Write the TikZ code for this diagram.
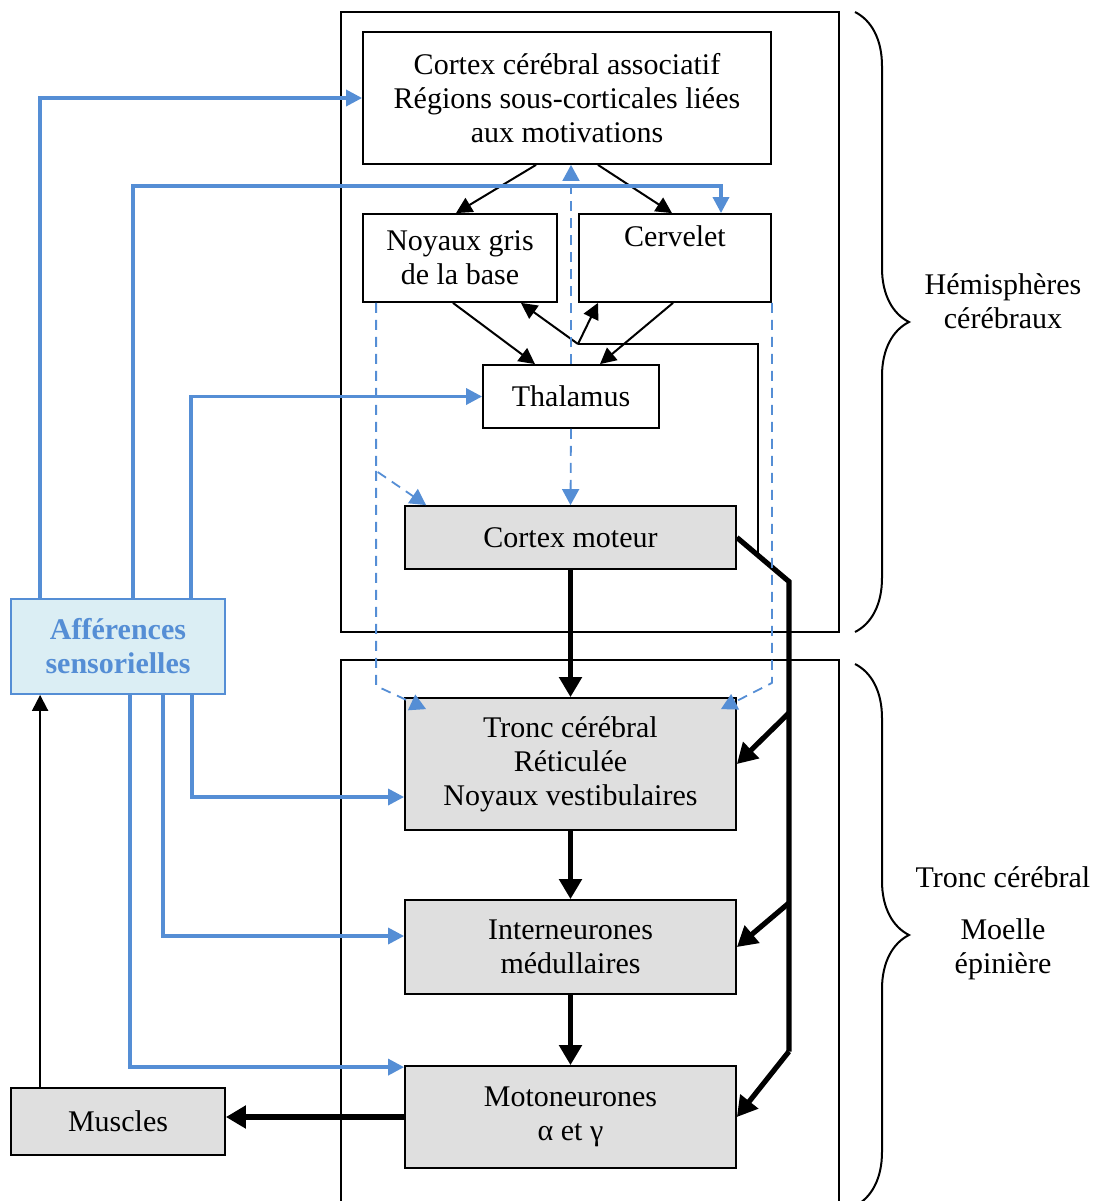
\documentclass[tikz,border=0pt]{standalone}
\usepackage{fontspec}
\setmainfont{Liberation Serif}
\usetikzlibrary{arrows.meta,positioning,calc,decorations.pathreplacing}
\definecolor{SkyB}{HTML}{558ED5}
\definecolor{SkyF}{HTML}{DBEEF4}
\definecolor{GrayF}{HTML}{DFDFDF}

\begin{document}
\begin{tikzpicture}[x=0.5pt,y=-0.5pt,
    font=\fontsize{15}{17}\selectfont,
    box/.style={draw,line width=0.9pt,fill=white,inner sep=0pt,align=center},
    gbox/.style={box,fill=GrayF},
    abox/.style={draw=SkyB,line width=0.9pt,fill=SkyF,inner sep=0pt,align=center,
      text=SkyB,font=\fontsize{15}{17}\selectfont\bfseries},
    arr/.style={-{Triangle[length=8pt,width=8pt]},line width=1pt},
    thk/.style={-{Triangle[length=10pt,width=11pt]},line width=2.6pt},
    barr/.style={-{Triangle[length=8pt,width=8pt]},SkyB,line width=1.7pt},
    darr/.style={-{Triangle[length=8pt,width=8.5pt]},SkyB,line width=0.9pt,
      dash pattern=on 5pt off 3.5pt},
    brc/.style={decorate,decoration={brace,amplitude=27pt},line width=1pt}]
  \useasboundingbox (0,0) rectangle (1100,1201);
  \draw[line width=0.9pt] (341,12) rectangle (839,632);
  \draw[line width=0.9pt] (341,1210) -- (341,660) -- (839,660) -- (839,1210);
  \draw[brc] (855,12) -- (855,632);
  \draw[brc] (855,664) -- (855,1206);

  \node[box,minimum width=204pt,minimum height=66pt] (CA) at (567,98)
    {Cortex cérébral associatif\\Régions sous-corticales liées\\aux motivations};
  \node[box,minimum width=97pt,minimum height=44pt] (NG) at (460,258) {Noyaux gris\\de la base};
  \node[box,minimum width=96pt,minimum height=44pt] (CV) at (675,258) {Cervelet\\\strut};
  \node[box,minimum width=88pt,minimum height=31.5pt] (TH) at (571,396.5) {Thalamus};
  \node[gbox,minimum width=165.5pt,minimum height=31.5pt] (CM) at (570.5,537.5) {Cortex moteur};
  \node[gbox,minimum width=165.5pt,minimum height=66pt,below=63.6pt of CM] (TC)
    {Tronc cérébral\\Réticulée\\Noyaux vestibulaires};
  \node[gbox,minimum width=165.5pt,minimum height=47pt,below=34.1pt of TC] (IN) {Interneurones\\médullaires};
  \node[gbox,minimum width=165.5pt,minimum height=51pt,below=35.1pt of IN] (MN) {Motoneurones\\α et γ};
  \node[abox,minimum width=107pt,minimum height=47.5pt] (AF) at (118,646.5) {Afférences\\sensorielles};
  \node[gbox,minimum width=107pt,minimum height=33.5pt] (MU) at (118,1121.5) {Muscles};

  \node[align=center] (HC) at (1003,301) {Hémisphères\\cérébraux};
  \node (TCl) at (1003,877) {Tronc cérébral};
  \node[align=center] (ME) at (1003,949) {Moelle\\épinière};

  \draw[arr] ($(CA.south)+(-31,0)$) -- ($(NG.north)+(-4,0)$);
  \draw[arr] ($(CA.south)+(31,0)$) -- ($(CV.north)+(-3,0)$);
  \draw[arr] ($(NG.south)+(-7,0)$) -- ($(TH.north)+(-36,0)$);
  \draw[arr] ($(CV.south)+(-2,0)$) -- ($(TH.north)+(29,0)$);

  \coordinate (K) at ($(CM.east)+(52,44)$);
  \coordinate (Kb) at ($(K)+(0,470)$);
  \coordinate (J) at (578,344);
  \draw[line width=1pt] ($(CM.east)!0.4!(K)$) |- (J);
  \draw[arr] (J) -- ($(NG.south)+(61,0)$);
  \draw[arr] (J) -- ($(CV.south)+(-77,0)$);

  \draw[line width=2.6pt] (CM.east) -- (K) -- (Kb);
  \draw[thk] ($(TC.east)+(52,-51)$) -- (TC.east);
  \draw[thk] ($(IN.east)+(52,-44)$) -- (IN.east);
  \draw[thk] (Kb) -- (MN.east);
  \draw[thk] (CM) -- (TC);
  \draw[thk] (TC) -- (IN);
  \draw[thk] (IN) -- (MN);
  \draw[thk] (MN.west) -- (MN.west -| MU.east);
  \draw[arr] ($(MU.north west)+(30,0)$) -- ($(AF.south west)+(30,0)$);

  \draw[barr] ($(AF.north west)+(30,0)$) |- (CA.west);
  \draw[barr] ($(AF.north west)+(123,0)$) |- ($(CV.north)+(46,-27)$) -- ($(CV.north)+(46,0)$);
  \draw[barr] ($(AF.north west)+(181,0)$) |- (TH.west);
  \draw[barr] ($(AF.south west)+(182,0)$) |- ($(TC.west)+(0,33)$);
  \draw[barr] ($(AF.south west)+(153,0)$) |- ($(IN.west)+(0,-11)$);
  \draw[barr] ($(AF.south west)+(120,0)$) |- ($(MN.north west)+(0,2)$);

  \coordinate (D1) at ($(NG.south west)+(14,168)$);
  \coordinate (D2) at ($(NG.south west)+(14,383)$);
  \coordinate (D3) at ($(CV.south east)+(0,380)$);
  \draw[darr] (TH.north) -- (TH.north |- CA.south);
  \draw[darr] (TH.south) -- (CM.north);
  \draw[darr] ($(NG.south west)+(14,0)$) -- (D1) -- ($(CM.north west)+(22,0)$);
  \draw[darr] (D1) -- (D2) -- ($(TC.north west)+(22,12)$);
  \draw[darr] (CV.south east) -- (D3) -- ($(TC.north east)+(-16,12)$);
\end{tikzpicture}
\end{document}
